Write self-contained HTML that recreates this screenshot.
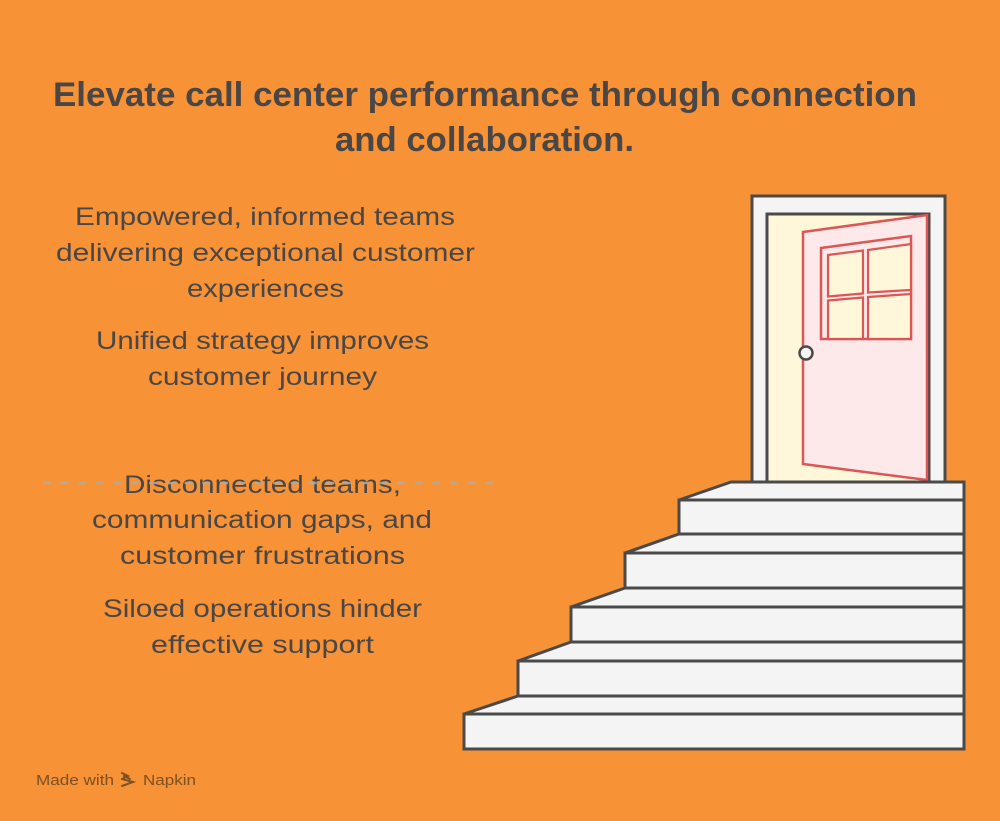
<!DOCTYPE html>
<html>
<head>
<meta charset="utf-8">
<style>
  html,body{margin:0;padding:0;}
  body{width:1000px;height:821px;background:#F79336;overflow:hidden;}
  svg{display:block;}
  .t{font-family:"Liberation Sans",Arial,sans-serif;fill:#4a4646;}
</style>
</head>
<body>
<svg width="1000" height="821" viewBox="0 0 1000 821" xmlns="http://www.w3.org/2000/svg">
  <rect x="0" y="0" width="1000" height="821" fill="#F79336"/>

  <!-- Title -->
  <text class="t" x="485" y="106" font-size="34" font-weight="bold" text-anchor="middle" textLength="864" lengthAdjust="spacingAndGlyphs">Elevate call center performance through connection</text>
  <text class="t" x="484.5" y="151" font-size="34" font-weight="bold" text-anchor="middle" textLength="299" lengthAdjust="spacingAndGlyphs">and collaboration.</text>

  <!-- Upper text -->
  <g class="t" font-size="25" text-anchor="middle">
    <text x="265" y="225" textLength="380" lengthAdjust="spacingAndGlyphs">Empowered, informed teams</text>
    <text x="265.5" y="261" textLength="419" lengthAdjust="spacingAndGlyphs">delivering exceptional customer</text>
    <text x="265.5" y="297" textLength="157" lengthAdjust="spacingAndGlyphs">experiences</text>
    <text x="262.5" y="349" textLength="333" lengthAdjust="spacingAndGlyphs">Unified strategy improves</text>
    <text x="262.5" y="385" textLength="229" lengthAdjust="spacingAndGlyphs">customer journey</text>
  </g>

  <!-- Lower text -->
  <g class="t" font-size="25" text-anchor="middle">
    <text x="262.5" y="493" textLength="277" lengthAdjust="spacingAndGlyphs">Disconnected teams,</text>
    <text x="262" y="528" textLength="340" lengthAdjust="spacingAndGlyphs">communication gaps, and</text>
    <text x="262.5" y="564" textLength="285" lengthAdjust="spacingAndGlyphs">customer frustrations</text>
    <text x="262.5" y="617" textLength="319" lengthAdjust="spacingAndGlyphs">Siloed operations hinder</text>
    <text x="262.5" y="653" textLength="223" lengthAdjust="spacingAndGlyphs">effective support</text>
  </g>

  <!-- Dashed divider (drawn over text) -->
  <line x1="43" y1="483" x2="500" y2="483" stroke="#AEAAA6" stroke-opacity="0.85" stroke-width="2.5" stroke-dasharray="8 9.7"/>

  <!-- Door frame -->
  <rect x="752" y="196" width="193" height="290" fill="#F4F4F5" stroke="#4A4A4A" stroke-width="3"/>
  <rect x="767" y="214" width="162" height="272" fill="#FEF7DA" stroke="#4A4A4A" stroke-width="3"/>

  <!-- Door panel -->
  <polygon points="803,232 927,215 927,480 803,464" fill="#FDE9E9" stroke="#DD5656" stroke-width="2.5" stroke-linejoin="miter"/>
  <!-- Window -->
  <polygon points="821,248 911,236 911,339 821,339" fill="#FDE9E9" stroke="#DD5656" stroke-width="2.5"/>
  <g fill="#FEF7DA" stroke="#DD5656" stroke-width="2.2">
    <polygon points="828,255 863,250.5 863,293.5 828,296.5"/>
    <polygon points="868,250 911,244 911,290 868,292.5"/>
    <polygon points="828,300.5 863,297.5 863,339 828,339"/>
    <polygon points="868,297 911,294 911,339 868,339"/>
  </g>
  <!-- Knob -->
  <circle cx="806" cy="353" r="6.5" fill="#F4F4F5" stroke="#4A4A4A" stroke-width="2.5"/>

  <!-- Stairs -->
  <g fill="#F4F4F5" stroke="#4A4A4A" stroke-width="3" stroke-linejoin="miter">
    <polygon points="731,482 964,482 964,500 679,500"/>
    <rect x="679" y="500" width="285" height="34"/>
    <polygon points="679,534 964,534 964,553 625,553"/>
    <rect x="625" y="553" width="339" height="35"/>
    <polygon points="625,588 964,588 964,607 571,607"/>
    <rect x="571" y="607" width="393" height="35"/>
    <polygon points="571,642 964,642 964,661 518,661"/>
    <rect x="518" y="661" width="446" height="35"/>
    <polygon points="518,696 964,696 964,714 464,714"/>
    <rect x="464" y="714" width="500" height="35"/>
  </g>

  <!-- Footer -->
  <g font-family="Liberation Sans, Arial, sans-serif" font-size="15" fill="#7A5024">
    <text x="36" y="785" textLength="78" lengthAdjust="spacingAndGlyphs">Made with</text>
    <text x="143" y="785" textLength="53" lengthAdjust="spacingAndGlyphs">Napkin</text>
  </g>
  <g fill="none" stroke="#7A5024" stroke-width="2" stroke-linecap="round">
    <path d="M122,773 L128,776 L122,779"/>
    <path d="M122,779 L133,782 L122,786"/>
    <path d="M124,776 L130,779"/>
  </g>
</svg>
</body>
</html>
